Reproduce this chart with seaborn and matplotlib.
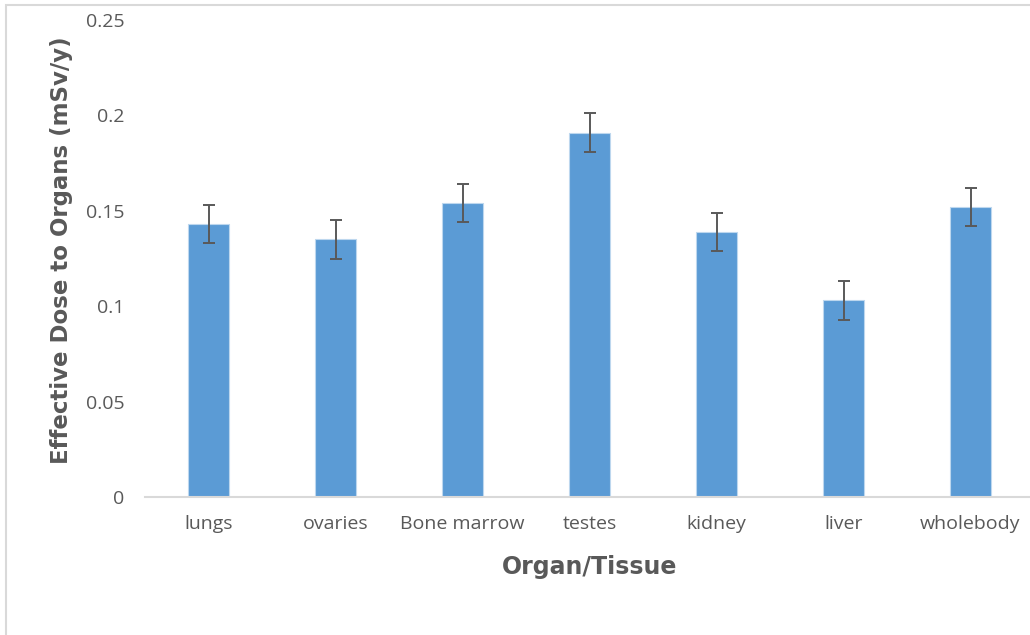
import numpy as np
import pandas as pd
import seaborn as sns
from matplotlib import pyplot as plt
from matplotlib.patches import Rectangle

organs = ["lungs", "ovaries", "Bone marrow", "testes", "kidney", "liver", "wholebody"]
dose = [0.143, 0.135, 0.154, 0.191, 0.139, 0.103, 0.152]
dose_err = [0.01, 0.01, 0.01, 0.01, 0.01, 0.01, 0.01]
y_ticks = [0, 0.05, 0.1, 0.15, 0.2, 0.25]
y_tick_labels = ["0", "0.05", "0.1", "0.15", "0.2", "0.25"]

sns.set_style("white")
plt.rcParams["font.family"] = ["Open Sans", "DejaVu Sans"]

df = pd.DataFrame({"organ": organs, "dose": dose})

fig = plt.figure(figsize=(10.3, 6.35), dpi=100)
ax = fig.add_axes([145 / 1030, 1 - 497 / 635, 889 / 1030, 477 / 635])

# chart frame (light gray, clipped on the right/bottom like the source)
fig.patches.append(Rectangle((6 / 1030, -0.1), 1.2, 1 - 5 / 635 + 0.1,
                             transform=fig.transFigure, fill=False,
                             edgecolor="#d9d9d9", linewidth=1.5))

sns.barplot(data=df, x="organ", y="dose", color="#5b9bd5", width=0.315,
            saturation=1, edgecolor="#bdd7ee", linewidth=0.8, ax=ax)
ax.errorbar(np.arange(len(organs)), dose, yerr=dose_err, fmt="none",
            ecolor="#595959", elinewidth=1.4, capsize=4, capthick=1.4)

ax.set_ylim(0, 0.25)
ax.set_xlim(-0.5, len(organs) - 0.5)
ax.set_yticks(y_ticks)
ax.set_yticklabels(y_tick_labels)

for side in ["left", "top", "right"]:
    ax.spines[side].set_visible(False)
ax.spines["bottom"].set_color("#d9d9d9")
ax.spines["bottom"].set_linewidth(1.5)

ax.tick_params(axis="both", length=0, labelsize=14, colors="#595959")
ax.tick_params(axis="y", pad=15)
ax.tick_params(axis="x", pad=13)

label_font = dict(fontweight="bold", color="#595959",
                  family=["DejaVu Sans"])
ax.set_xlabel("Organ/Tissue", fontsize=17, **label_font)
ax.set_ylabel("Effective Dose to Organs (mSv/y)", fontsize=16.5, **label_font)
ax.xaxis.set_label_coords((589.5 - 145) / 889, -(567 - 497) / 477)
ax.yaxis.set_label_coords(-(145 - 62) / 889, (497 - 250) / 477)
ax.xaxis.label.set_va("center")
ax.yaxis.label.set_va("center")

fig.savefig("out.png", dpi=100)
